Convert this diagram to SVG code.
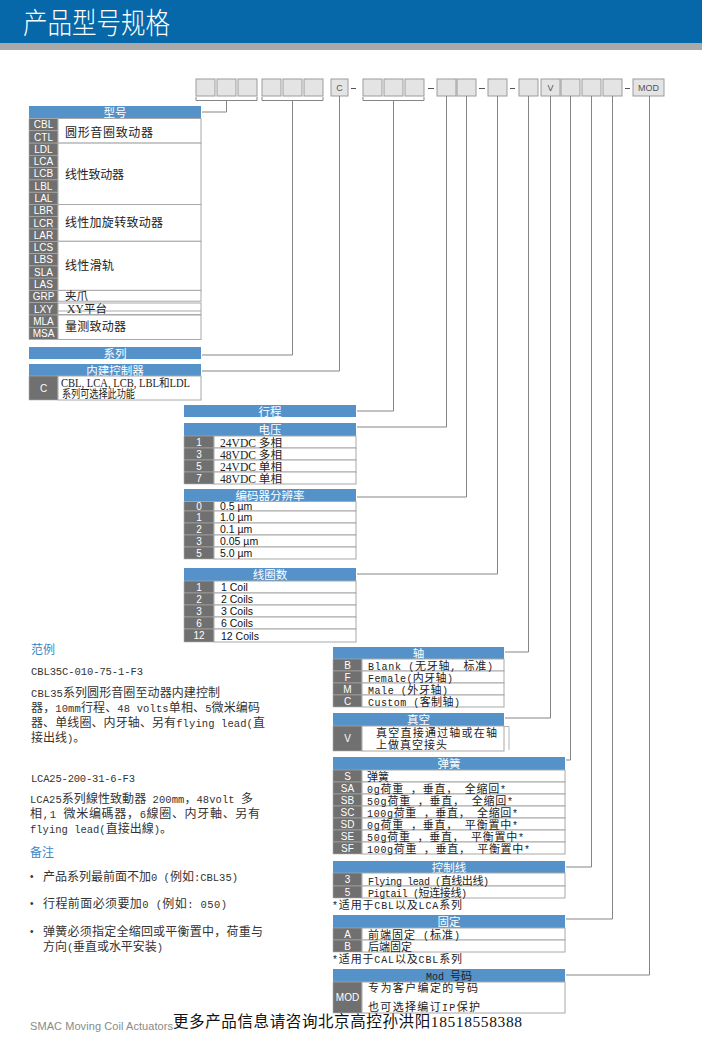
<svg xmlns="http://www.w3.org/2000/svg" width="702" height="1043" viewBox="0 0 702 1043">
<style>
.hb{fill:#5592c9}
.cd{fill:#707070;stroke:#b0b0b0;stroke-width:0.6}
.ce{fill:#fff;stroke:#a8a8a8;stroke-width:1}
.bx{fill:#e4e4e4;stroke:#9c9c9c;stroke-width:1}
.ct{font-family:"Liberation Sans",Arial,sans-serif;font-size:10px;fill:#fff;text-anchor:middle}
.ht{font-family:"Noto Sans CJK SC",sans-serif;font-size:11.5px;fill:#fff;text-anchor:middle}
.cj{font-family:"Noto Sans CJK SC",sans-serif;font-size:12px;fill:#222}
.sf{font-family:"Liberation Serif","Noto Sans CJK SC",serif;font-size:11.5px;fill:#222}
.mn{font-family:"Liberation Mono","Noto Sans CJK SC",monospace;font-size:11px;fill:#222}
.mn .l{font-size:10px}
.pg{font-family:"Liberation Mono","Noto Sans CJK SC",monospace;font-size:12px;fill:#333}
.pg .l{font-size:10.5px}
.sn{font-family:"Liberation Sans",Arial,sans-serif;font-size:10.5px;fill:#111}
.bt{font-family:"Liberation Sans",Arial,sans-serif;font-size:9px;fill:#555;text-anchor:middle}
.ln{fill:none;stroke:#858585;stroke-width:1}
.dk{fill:none;stroke:#555;stroke-width:1}
.bl{fill:#3b87c3}
</style>

<g id="header">
<rect x="0" y="0" width="702" height="43" fill="#0668a9"/>
<rect x="0" y="43" width="702" height="7" fill="#a9a9a9"/>
<text x="23" y="34" font-family="Noto Sans CJK SC, sans-serif" font-weight="300" font-size="29" fill="#fff" textLength="147" lengthAdjust="spacingAndGlyphs">产品型号规格</text>
</g>

<g id="code-row">
<rect class="bx" x="196" y="79" width="19" height="17"/>
<rect class="bx" x="217" y="79" width="19" height="17"/>
<rect class="bx" x="238" y="79" width="19" height="17"/>
<rect class="bx" x="262" y="79" width="19" height="17"/>
<rect class="bx" x="283" y="79" width="19" height="17"/>
<rect class="bx" x="304" y="79" width="19" height="17"/>
<rect class="bx" x="331" y="79" width="17" height="17"/>
<text class="bt" x="339.5" y="91">C</text>
<path class="dk" d="M351,88.5 H356"/>
<rect class="bx" x="363" y="79" width="19" height="17"/>
<rect class="bx" x="384" y="79" width="19" height="17"/>
<rect class="bx" x="405" y="79" width="19" height="17"/>
<path class="dk" d="M428,88.5 H434"/>
<rect class="bx" x="437" y="79" width="19" height="17"/>
<rect class="bx" x="457" y="79" width="19" height="17"/>
<path class="dk" d="M479,88.5 H485"/>
<rect class="bx" x="488" y="79" width="19" height="17"/>
<path class="dk" d="M510,88.5 H515"/>
<rect class="bx" x="519" y="79" width="19" height="17"/>
<rect class="bx" x="541" y="79" width="19" height="17"/>
<text class="bt" x="550.5" y="91">V</text>
<rect class="bx" x="561" y="79" width="19" height="17"/>
<rect class="bx" x="582" y="79" width="19" height="17"/>
<rect class="bx" x="603" y="79" width="19" height="17"/>
<path class="dk" d="M625,88.5 H630"/>
<rect class="bx" x="633" y="79" width="31" height="17"/>
<text class="bt" x="648.5" y="91">MOD</text>
</g>

<g id="connectors">
<path class="ln" d="M196,97 V100.5 H257 V97"/>
<path class="ln" d="M262,97 V100.5 H323 V97"/>
<path class="ln" d="M363,97 V100.5 H424 V97"/>
<path class="ln" d="M226.5,100.5 V112 H202"/>
<path class="ln" d="M292.5,100.5 V355 H202"/>
<path class="ln" d="M339.5,96 V371 H202"/>
<path class="ln" d="M393.5,100.5 V411 H357"/>
<path class="ln" d="M446.5,96 V427 H357"/>
<path class="ln" d="M466.5,96 V497 H357"/>
<path class="ln" d="M497.5,96 V574 H357"/>
<path class="ln" d="M528.5,96 V652 H505"/>
<path class="ln" d="M550.5,96 V718 H505"/>
<path class="ln" d="M570.5,96 V760 H566"/>
<path class="ln" d="M591.5,96 V867 H566"/>
<path class="ln" d="M612.5,96 V919 H566"/>
<path class="ln" d="M649.5,96 V975 H566"/>
</g>

<g id="model-table">
<rect class="hb" x="29" y="106" width="172" height="12.5"/>
<text class="ht" x="115" y="116.5">型号</text>
<rect class="cd" x="29" y="118.5" width="29" height="12.3"/><text class="ct" x="43.5" y="128.3">CBL</text>
<rect class="cd" x="29" y="130.8" width="29" height="12.3"/><text class="ct" x="43.5" y="140.6">CTL</text>
<rect class="cd" x="29" y="143.1" width="29" height="12.3"/><text class="ct" x="43.5" y="152.9">LDL</text>
<rect class="cd" x="29" y="155.3" width="29" height="12.3"/><text class="ct" x="43.5" y="165.1">LCA</text>
<rect class="cd" x="29" y="167.6" width="29" height="12.3"/><text class="ct" x="43.5" y="177.4">LCB</text>
<rect class="cd" x="29" y="179.9" width="29" height="12.3"/><text class="ct" x="43.5" y="189.7">LBL</text>
<rect class="cd" x="29" y="192.2" width="29" height="12.3"/><text class="ct" x="43.5" y="202">LAL</text>
<rect class="cd" x="29" y="204.5" width="29" height="12.3"/><text class="ct" x="43.5" y="214.3">LBR</text>
<rect class="cd" x="29" y="216.7" width="29" height="12.3"/><text class="ct" x="43.5" y="226.5">LCR</text>
<rect class="cd" x="29" y="229" width="29" height="12.3"/><text class="ct" x="43.5" y="238.8">LAR</text>
<rect class="cd" x="29" y="241.3" width="29" height="12.3"/><text class="ct" x="43.5" y="251.1">LCS</text>
<rect class="cd" x="29" y="253.6" width="29" height="12.3"/><text class="ct" x="43.5" y="263.4">LBS</text>
<rect class="cd" x="29" y="265.9" width="29" height="12.3"/><text class="ct" x="43.5" y="275.7">SLA</text>
<rect class="cd" x="29" y="278.1" width="29" height="12.3"/><text class="ct" x="43.5" y="287.9">LAS</text>
<rect class="cd" x="29" y="290.4" width="29" height="12.3"/><text class="ct" x="43.5" y="300.2">GRP</text>
<rect class="cd" x="29" y="302.7" width="29" height="12.3"/><text class="ct" x="43.5" y="312.5">LXY</text>
<rect class="cd" x="29" y="315" width="29" height="12.3"/><text class="ct" x="43.5" y="324.8">MLA</text>
<rect class="cd" x="29" y="327.3" width="29" height="12.3"/><text class="ct" x="43.5" y="337.1">MSA</text>
<rect class="ce" x="58" y="118.5" width="143" height="24.6"/>
<text class="cj" x="65" y="136.5" textLength="88">圆形音圈致动器</text>
<rect class="ce" x="58" y="143.1" width="143" height="61.4"/>
<text class="cj" x="65" y="179" textLength="59">线性致动器</text>
<rect class="ce" x="58" y="204.5" width="143" height="36.8"/>
<text class="cj" x="65" y="227" textLength="98">线性加旋转致动器</text>
<rect class="ce" x="58" y="241.3" width="143" height="49.1"/>
<text class="cj" x="65" y="269.5" textLength="49">线性滑轨</text>
<rect class="ce" x="58" y="290.4" width="143" height="10.8"/>
<text class="sf" x="65" y="300" font-size="10.5">夹爪</text>
<rect class="ce" x="58" y="303" width="143" height="11.5"/>
<path d="M58,311 H201" stroke="#a8a8a8" stroke-width="1"/>
<text class="sf" x="67" y="312.5" font-size="10.5" textLength="40">XY平台</text>
<rect class="ce" x="58" y="315" width="143" height="24.5"/>
<text class="cj" x="65" y="331" textLength="61">量测致动器</text>
</g>

<g id="series">
<rect class="hb" x="29" y="347" width="172" height="12"/>
<text class="ht" x="115" y="357.5">系列</text>
</g>

<g id="controller">
<rect class="hb" x="29" y="364" width="172" height="12"/>
<text class="ht" x="115" y="374.5">内建控制器</text>
<rect class="cd" x="29" y="376" width="29" height="24"/><text class="ct" x="43.5" y="392">C</text>
<rect class="ce" x="58" y="376" width="143" height="24"/>
<text class="sf" x="61" y="386.5" font-size="10.5" textLength="129" lengthAdjust="spacingAndGlyphs">CBL, LCA, LCB, LBL和LDL</text>
<text class="sf" x="62" y="398" font-size="10" textLength="73" lengthAdjust="spacingAndGlyphs">系列可选择此功能</text>
</g>

<g id="stroke">
<rect class="hb" x="184" y="405" width="172" height="12"/>
<text class="ht" x="270" y="415.5">行程</text>
</g>

<g id="voltage">
<rect class="hb" x="184" y="423" width="172" height="13"/>
<text class="ht" x="270" y="434">电压</text>
<rect class="cd" x="184" y="436" width="30" height="12"/><text class="ct" x="199" y="445.5">1</text>
<rect class="cd" x="184" y="448" width="30" height="12"/><text class="ct" x="199" y="457.5">3</text>
<rect class="cd" x="184" y="460" width="30" height="12"/><text class="ct" x="199" y="469.5">5</text>
<rect class="cd" x="184" y="472" width="30" height="12"/><text class="ct" x="199" y="481.5">7</text>
<rect class="ce" x="214" y="436" width="142" height="12"/>
<rect class="ce" x="214" y="448" width="142" height="12"/>
<rect class="ce" x="214" y="460" width="142" height="12"/>
<rect class="ce" x="214" y="472" width="142" height="12"/>
<text class="sf" x="220" y="446.5" textLength="62" lengthAdjust="spacingAndGlyphs">24VDC  多相</text>
<text class="sf" x="220" y="458.5" textLength="62" lengthAdjust="spacingAndGlyphs">48VDC  多相</text>
<text class="sf" x="220" y="470.5" textLength="62" lengthAdjust="spacingAndGlyphs">24VDC  单相</text>
<text class="sf" x="220" y="482.5" textLength="62" lengthAdjust="spacingAndGlyphs">48VDC  单相</text>
</g>

<g id="encoder">
<rect class="hb" x="184" y="489" width="172" height="12.5"/>
<text class="ht" x="270" y="499.5" font-size="11">编码器分辨率</text>
<rect class="cd" x="184" y="501.5" width="30" height="9.5"/><text class="ct" x="199" y="510" font-size="9">0</text>
<rect class="cd" x="184" y="511" width="30" height="12"/><text class="ct" x="199" y="520.5">1</text>
<rect class="cd" x="184" y="523" width="30" height="12"/><text class="ct" x="199" y="532.5">2</text>
<rect class="cd" x="184" y="535" width="30" height="12"/><text class="ct" x="199" y="544.5">3</text>
<rect class="cd" x="184" y="547" width="30" height="12"/><text class="ct" x="199" y="556.5">5</text>
<rect class="ce" x="214" y="501.5" width="142" height="9.5"/>
<rect class="ce" x="214" y="511" width="142" height="12"/>
<rect class="ce" x="214" y="523" width="142" height="12"/>
<rect class="ce" x="214" y="535" width="142" height="12"/>
<rect class="ce" x="214" y="547" width="142" height="12"/>
<text class="sn" x="220" y="510.3" font-size="9.5">0.5 µm</text>
<text class="sn" x="220" y="521">1.0 µm</text>
<text class="sn" x="220" y="533">0.1 µm</text>
<text class="sn" x="220" y="545">0.05 µm</text>
<text class="sn" x="220" y="557">5.0 µm</text>
</g>

<g id="coils">
<rect class="hb" x="184" y="568" width="172" height="13"/>
<text class="ht" x="270" y="579">线圈数</text>
<rect class="cd" x="184" y="581" width="30" height="12"/><text class="ct" x="199" y="590.5">1</text>
<rect class="cd" x="184" y="593" width="30" height="12"/><text class="ct" x="199" y="602.5">2</text>
<rect class="cd" x="184" y="605" width="30" height="12"/><text class="ct" x="199" y="614.5">3</text>
<rect class="cd" x="184" y="617" width="30" height="12"/><text class="ct" x="199" y="626.5">6</text>
<rect class="cd" x="184" y="629" width="30" height="13"/><text class="ct" x="199" y="639">12</text>
<rect class="ce" x="214" y="581" width="142" height="12"/>
<rect class="ce" x="214" y="593" width="142" height="12"/>
<rect class="ce" x="214" y="605" width="142" height="12"/>
<rect class="ce" x="214" y="617" width="142" height="12"/>
<rect class="ce" x="214" y="629" width="142" height="13"/>
<text class="sn" x="221" y="591">1 Coil</text>
<text class="sn" x="221" y="603">2 Coils</text>
<text class="sn" x="221" y="615">3 Coils</text>
<text class="sn" x="221" y="627">6 Coils</text>
<text class="sn" x="221" y="640">12 Coils</text>
</g>

<g id="shaft">
<rect class="hb" x="333" y="647" width="171" height="12"/>
<text class="ht" x="418.5" y="657.5">轴</text>
<rect class="cd" x="333" y="659" width="29" height="12"/><text class="ct" x="347.5" y="668.5">B</text>
<rect class="cd" x="333" y="671" width="29" height="12"/><text class="ct" x="347.5" y="680.5">F</text>
<rect class="cd" x="333" y="683" width="29" height="12"/><text class="ct" x="347.5" y="692.5">M</text>
<rect class="cd" x="333" y="695" width="29" height="12"/><text class="ct" x="347.5" y="704.5">C</text>
<rect class="ce" x="362" y="659" width="142" height="12"/>
<rect class="ce" x="362" y="671" width="142" height="12"/>
<rect class="ce" x="362" y="683" width="142" height="12"/>
<rect class="ce" x="362" y="695" width="142" height="12"/>
<text class="mn" x="368" y="669.5" textLength="125"><tspan class="l">Blank (</tspan>无牙轴<tspan class="l">, </tspan>标准<tspan class="l">)</tspan></text>
<text class="mn" x="368" y="681.5" textLength="85"><tspan class="l">Female(</tspan>内牙轴<tspan class="l">)</tspan></text>
<text class="mn" x="368" y="693.5" textLength="80"><tspan class="l">Male (</tspan>外牙轴<tspan class="l">)</tspan></text>
<text class="mn" x="368" y="705.5" textLength="92"><tspan class="l">Custom (</tspan>客制轴<tspan class="l">)</tspan></text>
</g>

<g id="vacuum">
<rect class="hb" x="333" y="713" width="171" height="13"/>
<text class="ht" x="418.5" y="724">真空</text>
<rect class="cd" x="333" y="726" width="29" height="25"/><text class="ct" x="347.5" y="742">V</text>
<rect class="ce" x="362" y="726" width="142" height="25"/>
<path d="M504,726.5 H509 V750" fill="none" stroke="#b5b5b5" stroke-width="1"/>
<text class="mn" x="376" y="737" font-size="10.5" textLength="121">真空直接通过轴或在轴</text>
<text class="mn" x="376" y="749" font-size="10.5" textLength="71">上做真空接头</text>
</g>

<g id="spring">
<rect class="hb" x="333" y="757" width="232" height="13"/>
<text class="ht" x="449" y="768">弹簧</text>
<rect class="cd" x="333" y="770" width="29" height="12"/><text class="ct" x="347.5" y="779.5">S</text>
<rect class="cd" x="333" y="782" width="29" height="12"/><text class="ct" x="347.5" y="791.5">SA</text>
<rect class="cd" x="333" y="794" width="29" height="12"/><text class="ct" x="347.5" y="803.5">SB</text>
<rect class="cd" x="333" y="806" width="29" height="12"/><text class="ct" x="347.5" y="815.5">SC</text>
<rect class="cd" x="333" y="818" width="29" height="12"/><text class="ct" x="347.5" y="827.5">SD</text>
<rect class="cd" x="333" y="830" width="29" height="12"/><text class="ct" x="347.5" y="839.5">SE</text>
<rect class="cd" x="333" y="842" width="29" height="12"/><text class="ct" x="347.5" y="851.5">SF</text>
<rect class="ce" x="362" y="770" width="203" height="12"/>
<rect class="ce" x="362" y="782" width="203" height="12"/>
<rect class="ce" x="362" y="794" width="203" height="12"/>
<rect class="ce" x="362" y="806" width="203" height="12"/>
<rect class="ce" x="362" y="818" width="203" height="12"/>
<rect class="ce" x="362" y="830" width="203" height="12"/>
<rect class="ce" x="362" y="842" width="203" height="12"/>
<text class="mn" x="367" y="780.5" font-size="12">弹簧</text>
<text class="mn" x="367" y="792.5" textLength="139"><tspan class="l">0g</tspan>荷重<tspan class="l"> </tspan>，垂直，<tspan class="l"> </tspan>全缩回<tspan class="l">*</tspan></text>
<text class="mn" x="367" y="804.5" textLength="146"><tspan class="l">50g</tspan>荷重<tspan class="l"> </tspan>，垂直，<tspan class="l"> </tspan>全缩回<tspan class="l">*</tspan></text>
<text class="mn" x="367" y="816.5" textLength="151"><tspan class="l">100g</tspan>荷重<tspan class="l"> </tspan>，垂直，<tspan class="l"> </tspan>全缩回<tspan class="l">*</tspan></text>
<text class="mn" x="367" y="828.5" textLength="151"><tspan class="l">0g</tspan>荷重<tspan class="l"> </tspan>，垂直，<tspan class="l"> </tspan>平衡置中<tspan class="l">*</tspan></text>
<text class="mn" x="367" y="840.5" textLength="157"><tspan class="l">50g</tspan>荷重<tspan class="l"> </tspan>，垂直，<tspan class="l"> </tspan>平衡置中<tspan class="l">*</tspan></text>
<text class="mn" x="367" y="852.5" textLength="163"><tspan class="l">100g</tspan>荷重<tspan class="l"> </tspan>，垂直，<tspan class="l"> </tspan>平衡置中<tspan class="l">*</tspan></text>
</g>

<g id="cable">
<rect class="hb" x="333" y="861" width="232" height="12"/>
<text class="ht" x="449" y="871.5">控制线</text>
<rect class="cd" x="333" y="873" width="29" height="13"/><text class="ct" x="347.5" y="883">3</text>
<rect class="cd" x="333" y="886" width="29" height="12"/><text class="ct" x="347.5" y="895.5">5</text>
<rect class="ce" x="362" y="873" width="203" height="13"/>
<rect class="ce" x="362" y="886" width="203" height="12"/>
<text class="mn" x="368" y="884.5" textLength="121"><tspan class="l">Flying lead (</tspan>直线出线<tspan class="l">)</tspan></text>
<text class="mn" x="368" y="896.5" textLength="99"><tspan class="l">Pigtail (</tspan>短连接线<tspan class="l">)</tspan></text>
<text class="mn" x="332" y="908.5" textLength="130"><tspan class="l">*</tspan>适用于<tspan class="l">CBL</tspan>以及<tspan class="l">LCA</tspan>系列</text>
</g>

<g id="mount">
<rect class="hb" x="333" y="915" width="232" height="13"/>
<text class="ht" x="449" y="926">固定</text>
<rect class="cd" x="333" y="928" width="29" height="12"/><text class="ct" x="347.5" y="937.5">A</text>
<rect class="cd" x="333" y="940" width="29" height="12"/><text class="ct" x="347.5" y="949.5">B</text>
<rect class="ce" x="362" y="928" width="203" height="12"/>
<rect class="ce" x="362" y="940" width="203" height="12"/>
<text class="mn" x="368" y="938.5" textLength="92">前端固定<tspan class="l"> (</tspan>标准<tspan class="l">)</tspan></text>
<text class="mn" x="368" y="950.5">后端固定</text>
<text class="mn" x="332" y="962.5" textLength="130"><tspan class="l">*</tspan>适用于<tspan class="l">CAL</tspan>以及<tspan class="l">CBL</tspan>系列</text>
</g>

<g id="mod">
<rect class="hb" x="333" y="969" width="232" height="13"/>
<text class="mn" x="449" y="980" fill="#fff" text-anchor="middle"><tspan class="l">Mod </tspan>号码</text>
<rect class="cd" x="333" y="982" width="29" height="31"/><text class="ct" x="347.5" y="1001">MOD</text>
<rect class="ce" x="362" y="982" width="203" height="31"/>
<text class="mn" x="368" y="992" font-size="11.5" textLength="110">专为客户编定的号码</text>
<text class="mn" x="368" y="1011" font-size="11.5" textLength="112">也可选择编订<tspan class="l">IP</tspan>保护</text>
</g>

<g id="examples">
<text class="cj bl" x="31" y="654" font-size="12.5">范例</text>
<text class="pg" x="31" y="675" textLength="112"><tspan class="l">CBL35C-010-75-1-F3</tspan></text>
<text class="pg" x="31" y="697" textLength="189"><tspan class="l">CBL35</tspan>系列圆形音圈至动器内建控制</text>
<text class="pg" x="31" y="712" textLength="229">器，<tspan class="l">10mm</tspan>行程、<tspan class="l">48 volts</tspan>单相、<tspan class="l">5</tspan>微米编码</text>
<text class="pg" x="31" y="727" textLength="234">器、单线圈、内牙轴、另有<tspan class="l">flying lead(</tspan>直</text>
<text class="pg" x="31" y="742">接出线<tspan class="l">)</tspan>。</text>
<text class="pg" x="31" y="782" textLength="104"><tspan class="l">LCA25-200-31-6-F3</tspan></text>
<text class="pg" x="30" y="803" textLength="223"><tspan class="l">LCA25</tspan>系列線性致動器<tspan class="l"> 200mm</tspan>，<tspan class="l">48volt </tspan>多</text>
<text class="pg" x="30" y="818" textLength="230">相<tspan class="l">,1 </tspan>微米编碼器，<tspan class="l">6</tspan>線圈、内牙軸、另有</text>
<text class="pg" x="30" y="832.5" textLength="142"><tspan class="l">flying lead(</tspan>直接出線<tspan class="l">)</tspan>。</text>
</g>

<g id="notes">
<text class="cj bl" x="30" y="857" font-size="12.5">备注</text>
<text x="30" y="880" font-family="Liberation Sans, sans-serif" font-size="10" fill="#333">•</text>
<text class="pg" x="43" y="881" textLength="195">产品系列最前面不加<tspan class="l">0 (</tspan>例如<tspan class="l">:CBL35)</tspan></text>
<text x="30" y="907" font-family="Liberation Sans, sans-serif" font-size="10" fill="#333">•</text>
<text class="pg" x="43" y="908" textLength="184">行程前面必须要加<tspan class="l">0  (</tspan>例如<tspan class="l">: 050)</tspan></text>
<text x="30" y="935" font-family="Liberation Sans, sans-serif" font-size="10" fill="#333">•</text>
<text class="pg" x="43" y="936" textLength="220">弹簧必须指定全缩回或平衡置中，荷重与</text>
<text class="pg" x="43" y="951" textLength="120">方向<tspan class="l">(</tspan>垂直或水平安装<tspan class="l">)</tspan></text>
</g>

<g id="footer">
<text x="30" y="1030" font-family="Liberation Sans, Arial, sans-serif" font-size="11" fill="#8a8a8a" textLength="143">SMAC Moving Coil Actuators</text>
<text x="173" y="1027" font-family="Liberation Serif, Noto Sans CJK SC, serif" font-size="15.5" fill="#111" textLength="349">更多产品信息请咨询北京高控孙洪阳18518558388</text>
</g>
</svg>
